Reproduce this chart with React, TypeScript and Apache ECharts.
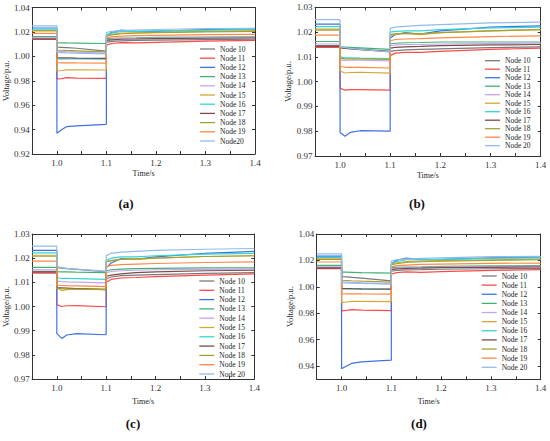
import React, { useEffect, useRef } from "react";
import * as echarts from "echarts";

const TIME = [0.95, 0.9999, 1.0, 1.01, 1.02, 1.04, 1.0999, 1.1, 1.11, 1.13, 1.16, 1.2, 1.3, 1.4];

const NAMES_A = ["Node 10", "Node 11", "Node 12", "Node 13", "Node 14", "Node 15", "Node 16", "Node 17", "Node 18", "Node 19", "Node20"];
const NAMES = ["Node 10", "Node 11", "Node 12", "Node 13", "Node 14", "Node 15", "Node 16", "Node 17", "Node 18", "Node 19", "Node 20"];
const COLORS = ["#7a7a7a", "#ff4a4a", "#3f72e0", "#3fb374", "#c9a3f2", "#d4a834", "#33d6d6", "#7d4b4b", "#a3a334", "#ff8844", "#93bbea"];

// pre-fault voltages (t < 1.0 s)
const PRE = [1.0145, 1.0138, 1.0232, 1.0162, 1.0152, 1.0212, 1.0222, 1.0142, 1.0208, 1.0188, 1.025];

// values at t = 1.0, 1.01, 1.02, 1.04, 1.0999 | 1.1, 1.11, 1.13, 1.16, 1.2, 1.3, 1.4
const PANEL_A = [
  [1.0075, 1.0073, 1.0071, 1.0066, 1.0042, 1.0115, 1.0122, 1.0127, 1.013, 1.0132, 1.0137, 1.014],
  [0.9815, 0.9818, 0.9826, 0.9822, 0.982, 1.0092, 1.0105, 1.0112, 1.011, 1.0114, 1.0125, 1.013],
  [0.937, 0.94, 0.9425, 0.943, 0.9443, 1.017, 1.0195, 1.0215, 1.0205, 1.0205, 1.0218, 1.0225],
  [1.0112, 1.0111, 1.011, 1.0109, 1.0105, 1.0145, 1.0148, 1.015, 1.0152, 1.0155, 1.0158, 1.016],
  [1.0042, 1.004, 1.0038, 1.0035, 1.0025, 1.0135, 1.014, 1.0145, 1.0147, 1.015, 1.0153, 1.0155],
  [0.988, 0.9884, 0.9889, 0.989, 0.9888, 1.0165, 1.018, 1.019, 1.0193, 1.0197, 1.0205, 1.021],
  [0.9978, 0.9977, 0.9978, 0.9978, 0.9977, 1.0172, 1.019, 1.0205, 1.0205, 1.0208, 1.0215, 1.022],
  [0.9988, 0.9987, 0.9987, 0.9986, 0.9984, 1.013, 1.0135, 1.014, 1.0142, 1.0145, 1.0148, 1.015],
  [1.0052, 1.005, 1.0048, 1.0045, 1.0036, 1.0165, 1.0175, 1.0185, 1.019, 1.0195, 1.02, 1.0205],
  [0.9948, 0.9947, 0.9947, 0.9946, 0.9945, 1.015, 1.016, 1.0165, 1.017, 1.0172, 1.0178, 1.018],
  [1.0032, 1.003, 1.0028, 1.0026, 1.002, 1.0195, 1.0205, 1.021, 1.0215, 1.022, 1.0228, 1.023],
];

const PANEL_B = [
  [1.0138, 1.0136, 1.0134, 1.0131, 1.0122, 1.012, 1.0125, 1.0128, 1.013, 1.0132, 1.0137, 1.014],
  [0.9973, 0.9966, 0.9968, 0.9968, 0.9966, 1.0105, 1.0115, 1.0118, 1.0118, 1.0122, 1.013, 1.0135],
  [0.9795, 0.978, 0.9795, 0.9802, 0.98, 1.0175, 1.019, 1.0198, 1.0192, 1.0205, 1.022, 1.0225],
  [1.014, 1.0139, 1.0138, 1.0136, 1.013, 1.0153, 1.0155, 1.0157, 1.0158, 1.016, 1.016, 1.016],
  [1.0088, 1.0086, 1.0087, 1.0087, 1.0084, 1.0145, 1.0148, 1.015, 1.015, 1.0152, 1.0154, 1.0155],
  [1.0043, 1.0035, 1.0037, 1.0038, 1.0034, 1.0185, 1.0192, 1.0195, 1.019, 1.0198, 1.0205, 1.021],
  [1.01, 1.0096, 1.0096, 1.0095, 1.0093, 1.02, 1.0203, 1.0205, 1.0205, 1.021, 1.0217, 1.022],
  [1.0136, 1.0134, 1.0132, 1.0129, 1.0121, 1.0135, 1.0138, 1.014, 1.0142, 1.0145, 1.0148, 1.015],
  [1.0095, 1.0092, 1.0092, 1.0092, 1.009, 1.019, 1.0193, 1.0195, 1.0193, 1.0198, 1.0205, 1.021],
  [1.0062, 1.0058, 1.0058, 1.0058, 1.0055, 1.0165, 1.017, 1.0172, 1.0174, 1.0177, 1.0182, 1.0185],
  [1.014, 1.0137, 1.0134, 1.013, 1.012, 1.0215, 1.022, 1.0223, 1.0227, 1.023, 1.0237, 1.024],
];

const PANEL_C = [
  [1.0162, 1.0159, 1.0157, 1.0154, 1.0144, 1.0115, 1.0122, 1.0128, 1.013, 1.0132, 1.0137, 1.014],
  [1.0008, 1.0, 1.0003, 1.0004, 0.9999, 1.01, 1.0112, 1.0118, 1.012, 1.0124, 1.013, 1.0135],
  [0.9888, 0.9868, 0.9882, 0.9888, 0.9883, 1.016, 1.018, 1.0198, 1.0195, 1.0205, 1.022, 1.0228],
  [1.0144, 1.0143, 1.0143, 1.0142, 1.014, 1.0148, 1.0152, 1.0155, 1.0157, 1.0158, 1.016, 1.016],
  [1.0105, 1.0103, 1.0102, 1.0101, 1.0098, 1.014, 1.0145, 1.0148, 1.015, 1.0152, 1.0154, 1.0155],
  [1.0078, 1.0066, 1.007, 1.0074, 1.0072, 1.0185, 1.019, 1.0195, 1.0195, 1.02, 1.0207, 1.021],
  [1.012, 1.0116, 1.0116, 1.0115, 1.0112, 1.019, 1.02, 1.0205, 1.0205, 1.021, 1.0217, 1.022],
  [1.0078, 1.0077, 1.0076, 1.0074, 1.007, 1.0125, 1.013, 1.0135, 1.014, 1.0143, 1.0148, 1.015],
  [1.0075, 1.0074, 1.0073, 1.0072, 1.007, 1.0185, 1.019, 1.0195, 1.0197, 1.02, 1.0207, 1.021],
  [1.0089, 1.0087, 1.0086, 1.0085, 1.0082, 1.0165, 1.017, 1.0173, 1.0175, 1.0178, 1.0182, 1.0185],
  [1.0165, 1.0161, 1.0158, 1.0155, 1.0145, 1.021, 1.022, 1.0225, 1.0228, 1.0232, 1.0237, 1.024],
];

const PANEL_D = [
  [1.0078, 1.0075, 1.0072, 1.0066, 1.0045, 1.0118, 1.0124, 1.0128, 1.013, 1.0133, 1.0137, 1.014],
  [0.9818, 0.9822, 0.9828, 0.9823, 0.982, 1.0095, 1.0108, 1.0113, 1.011, 1.0115, 1.0125, 1.013],
  [0.938, 0.94, 0.942, 0.9432, 0.9445, 1.0175, 1.02, 1.0218, 1.0205, 1.0208, 1.022, 1.0225],
  [1.0112, 1.0111, 1.011, 1.0108, 1.0104, 1.0145, 1.0148, 1.015, 1.0152, 1.0155, 1.0158, 1.016],
  [1.0038, 1.0036, 1.0034, 1.003, 1.0022, 1.0135, 1.014, 1.0145, 1.0147, 1.015, 1.0153, 1.0155],
  [0.988, 0.9885, 0.989, 0.989, 0.9888, 1.0168, 1.0182, 1.0192, 1.0195, 1.0198, 1.0205, 1.021],
  [0.9985, 0.9984, 0.9984, 0.9983, 0.9982, 1.0175, 1.0192, 1.0205, 1.0205, 1.0208, 1.0215, 1.022],
  [0.9988, 0.9987, 0.9986, 0.9985, 0.9983, 1.013, 1.0135, 1.014, 1.0142, 1.0145, 1.0148, 1.015],
  [1.005, 1.0048, 1.0046, 1.0043, 1.0035, 1.0165, 1.0175, 1.0185, 1.019, 1.0195, 1.02, 1.0205],
  [0.9948, 0.9947, 0.9947, 0.9946, 0.9945, 1.015, 1.016, 1.0165, 1.017, 1.0172, 1.0178, 1.018],
  [1.0032, 1.003, 1.0028, 1.0026, 1.002, 1.0195, 1.0205, 1.021, 1.0215, 1.022, 1.0228, 1.023],
];

const Y_TICKS_A = [0.92, 0.94, 0.96, 0.98, 1.0, 1.02, 1.04];
const Y_TICKS_B = [0.97, 0.98, 0.99, 1.0, 1.01, 1.02, 1.03];
const Y_TICKS_D = [0.94, 0.96, 0.98, 1.0, 1.02, 1.04];
const X_LABELS = [1.0, 1.1, 1.2, 1.3, 1.4];
const X_TICKS = [1.0, 1.05, 1.1, 1.15, 1.2, 1.25, 1.3, 1.35];
const PANEL_TAGS = ["(a)", "(b)", "(c)", "(d)"];

const FONT = "Liberation Serif";
const AXIS_COLOR = "#333";

const LAYOUT = [
  { grid: { left: 31, top: 7.5, width: 224, height: 146.5 }, ymin: 0.92, ymax: 1.04, yt: Y_TICKS_A, names: NAMES_A, data: PANEL_A, legend: { left: 200, top: 45, gap: 1.2 }, tag: [126, 203], xname: 15, yname: 20 },
  { grid: { left: 315, top: 7.3, width: 225.7, height: 148.7 }, ymin: 0.97, ymax: 1.03, yt: Y_TICKS_B, names: NAMES, data: PANEL_B, legend: { left: 485, top: 56.7, gap: 0.5 }, tag: [417, 203], xname: 15, yname: 19 },
  { grid: { left: 31.7, top: 234, width: 222.6, height: 145 }, ymin: 0.97, ymax: 1.03, yt: Y_TICKS_B, names: NAMES, data: PANEL_C, legend: { left: 199.3, top: 277, gap: 1.3 }, tag: [133, 423], xname: 18, yname: 18.5 },
  { grid: { left: 316.7, top: 234, width: 224, height: 145.3 }, ymin: 0.93, ymax: 1.04, yt: Y_TICKS_D, names: NAMES, data: PANEL_D, legend: { left: 481.7, top: 272, gap: 1.13 }, tag: [419, 423], xname: 18, yname: 19.5 },
];

function buildOption() {
  const grid: any[] = [];
  const xAxis: any[] = [];
  const yAxis: any[] = [];
  const legend: any[] = [];
  const series: any[] = [];
  const graphic: any[] = [];

  LAYOUT.forEach((p, i) => {
    grid.push({ ...p.grid, containLabel: false });
    const lineStyle = { color: AXIS_COLOR, width: 1 };
    xAxis.push({
      type: "value", gridIndex: i, position: "bottom", min: 0.95, max: 1.4,
      name: "Time/s", nameLocation: "middle", nameGap: p.xname,
      nameTextStyle: { fontFamily: FONT, fontSize: 8, color: "#222" },
      axisLine: { show: true, lineStyle }, splitLine: { show: false },
      axisTick: { show: true, inside: true, length: 3, lineStyle, customValues: X_TICKS },
      axisLabel: { show: true, fontFamily: FONT, fontSize: 9, color: "#333", margin: 4, customValues: X_LABELS, formatter: (v: number) => v.toFixed(1) },
    });
    xAxis.push({
      type: "value", gridIndex: i, position: "top", min: 0.95, max: 1.4,
      axisLine: { show: true, lineStyle }, splitLine: { show: false },
      axisTick: { show: true, inside: true, length: 3, lineStyle, customValues: X_TICKS },
      axisLabel: { show: false },
    });
    yAxis.push({
      type: "value", gridIndex: i, position: "left", min: p.ymin, max: p.ymax,
      name: "Voltage/p.u.", nameLocation: "middle", nameGap: p.yname,
      nameTextStyle: { fontFamily: FONT, fontSize: 8.5, color: "#222" },
      axisLine: { show: true, lineStyle }, splitLine: { show: false },
      axisTick: { show: true, inside: true, length: 3, lineStyle, customValues: p.yt },
      axisLabel: { show: true, fontFamily: FONT, fontSize: 9, color: "#333", margin: 2.5, customValues: p.yt, formatter: (v: number) => v.toFixed(2) },
    });
    yAxis.push({
      type: "value", gridIndex: i, position: "right", min: p.ymin, max: p.ymax,
      axisLine: { show: true, lineStyle }, splitLine: { show: false },
      axisTick: { show: true, inside: true, length: 3, lineStyle, customValues: p.yt },
      axisLabel: { show: false },
    });
    legend.push({
      data: p.names, orient: "vertical", left: p.legend.left, top: p.legend.top,
      icon: "rect", itemWidth: 15, itemHeight: 1.3, itemGap: p.legend.gap, padding: 0, selectedMode: false,
      textStyle: { fontFamily: FONT, fontSize: 7.5, color: "#222", lineHeight: 8 },
    });
    p.data.forEach((row, j) => {
      const vals = [PRE[j], PRE[j], ...row];
      series.push({
        type: "line", name: p.names[j], xAxisIndex: 2 * i, yAxisIndex: 2 * i,
        data: TIME.map((t, k) => [t, vals[k]]),
        showSymbol: false, symbol: "none", smooth: false,
        lineStyle: { color: COLORS[j], width: 1.2 }, itemStyle: { color: COLORS[j] },
      });
    });
    graphic.push({
      type: "text", x: p.tag[0], y: p.tag[1],
      style: { text: PANEL_TAGS[i], font: `bold 13px "${FONT}"`, fill: "#111", align: "center", verticalAlign: "middle" },
    });
  });

  return { animation: false, backgroundColor: "#fff", grid, xAxis, yAxis, legend, series, graphic };
}

export default function App() {
  const ref = useRef<HTMLDivElement>(null);
  useEffect(() => {
    if (!ref.current) return;
    const chart = echarts.init(ref.current, undefined, { renderer: "svg" });
    chart.setOption(buildOption() as any);
    return () => chart.dispose();
  }, []);
  return <div ref={ref} style={{ position: "fixed", left: 0, top: 0, width: 550, height: 441 }} />;
}
